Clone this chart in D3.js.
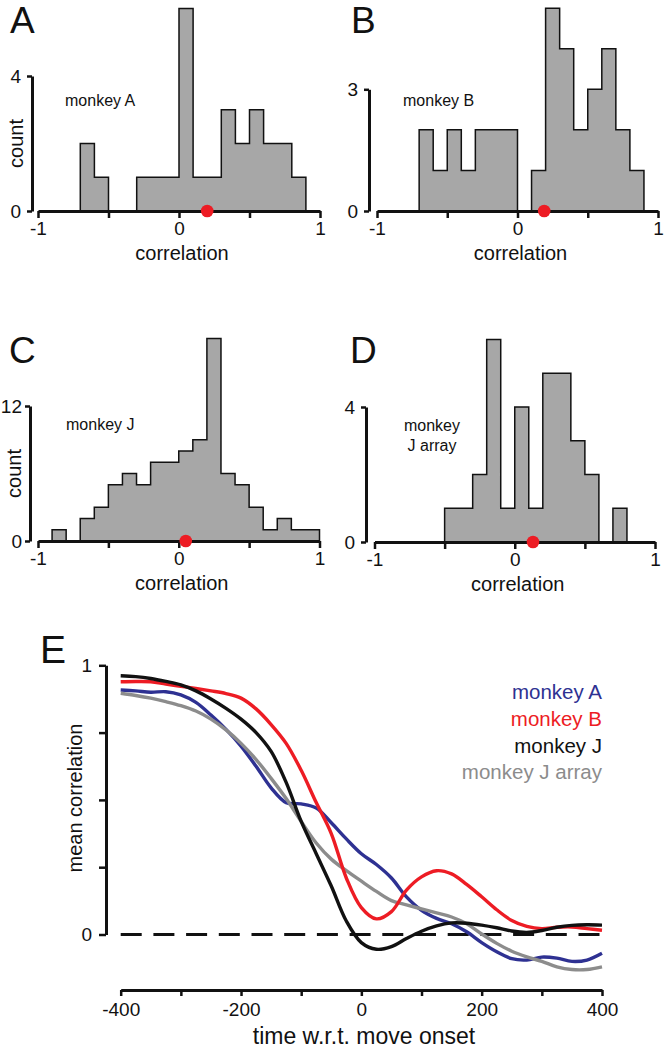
<!DOCTYPE html>
<html><head><meta charset="utf-8">
<script src="https://cdn.jsdelivr.net/npm/d3@7"></script>
<style>
body{margin:0;background:#fff}
text{font-family:"Liberation Sans",Arial,Helvetica,sans-serif;fill:#111}
</style>
</head><body>
<svg id="chart" width="667" height="1050"></svg>
<script>
// ---------------- DATA ----------------
// histogram bin edges: -1 .. 1 in steps of 0.1 (20 bins)
const binEdges = d3.range(21).map(i => Math.round((-1 + i * 0.1) * 10) / 10);
const countsA = [0,0,0,2,1,0,0,1,1,1,6,1,1,3,2,3,2,2,1,0];
const countsB = [0,0,0,2,1,2,1,2,2,2,0,1,5,4,2,3,4,2,1,0];
const countsJ = [0,1,0,2,3,5,6,5,7,7,8,9,18,6,5,3,1,2,1,1];
const countsJarray = [0,0,0,0,0,1,1,2,6,1,4,1,5,5,3,2,0,1,0,0];
const meanA = 0.20, meanB = 0.19, meanJ = 0.05, meanJarray = 0.13;
const histXTicks = [-1, -0.5, 0, 0.5, 1];
const histXTickLabels = [-1, 0, 1];
const yTopA = 4, yTopB = 3, yTopJ = 12, yTopJarray = 4;

// panel E: mean correlation vs time
const timeE = [-400,-375,-350,-325,-300,-275,-250,-225,-200,-175,-150,-125,-100,-75,-50,-25,0,25,50,75,100,125,150,175,200,225,250,275,300,325,350,375,400];
const corrMonkeyA = [0.908,0.905,0.900,0.902,0.890,0.862,0.815,0.762,0.700,0.625,0.545,0.490,0.485,0.470,0.415,0.355,0.300,0.260,0.210,0.140,0.090,0.060,0.040,0.010,-0.030,-0.064,-0.090,-0.095,-0.084,-0.088,-0.100,-0.095,-0.070];
const corrMonkeyB = [0.939,0.940,0.939,0.930,0.922,0.914,0.905,0.895,0.878,0.838,0.780,0.710,0.610,0.490,0.375,0.210,0.100,0.058,0.085,0.165,0.214,0.237,0.225,0.186,0.140,0.092,0.052,0.030,0.022,0.027,0.028,0.022,0.016];
const corrMonkeyJ = [0.961,0.958,0.951,0.940,0.927,0.905,0.875,0.840,0.800,0.750,0.680,0.565,0.420,0.300,0.180,0.050,-0.030,-0.055,-0.045,-0.015,0.012,0.032,0.043,0.042,0.035,0.025,0.013,0.008,0.015,0.027,0.034,0.036,0.035];
const corrMonkeyJarray = [0.896,0.888,0.878,0.865,0.850,0.830,0.800,0.760,0.710,0.650,0.580,0.505,0.420,0.340,0.280,0.237,0.198,0.160,0.126,0.110,0.095,0.080,0.065,0.040,0.002,-0.033,-0.062,-0.083,-0.100,-0.120,-0.130,-0.130,-0.120];
const seriesNames = ["monkey A", "monkey B", "monkey J", "monkey J array"];
const seriesColors = ["#2e3192", "#ed1c24", "#111111", "#8c8c8c"];
const eXTicks = [-400,-300,-200,-100,0,100,200,300,400];
const eXTickLabels = [-400,-200,0,200,400];
const eYTicks = [0,0.25,0.5,0.75,1];
const eYTickLabels = [0,1];

// ---------------- DRAW ----------------
const svg = d3.select("#chart");
const FONT_TICK = 19;
const plain = d => String(d);   // hyphen-minus, no decimals for integers

function histPanel(p) {
  const x = d3.scaleLinear().domain([-1, 1]).range([p.xl, p.xr]);
  const y = d3.scaleLinear().domain([0, p.yTop]).range([p.yBase, p.yTopPx]);
  const g = svg.append("g");
  const runs = [];
  let cur = null;
  p.counts.forEach((c, i) => {
    if (c > 0) { if (!cur) { cur = []; runs.push(cur); } cur.push(i); }
    else cur = null;
  });
  const line = d3.line().x(d => x(d[0])).y(d => y(d[1]));
  runs.forEach(r => {
    const pts = [[binEdges[r[0]], 0]];
    r.forEach(i => { pts.push([binEdges[i], p.counts[i]]); pts.push([binEdges[i + 1], p.counts[i]]); });
    pts.push([binEdges[r[r.length - 1] + 1], 0]);
    g.append("path").attr("d", line(pts) + "Z")
      .attr("fill", "#a7a7a7").attr("stroke", "#111").attr("stroke-width", 1.5)
      .attr("stroke-linejoin", "miter");
  });
  const xa = g.append("g").attr("transform", `translate(0,${p.yBase})`)
    .call(d3.axisBottom(x).tickValues(histXTicks).tickSize(7).tickSizeOuter(0).tickPadding(4)
      .tickFormat(d => histXTickLabels.includes(d) ? plain(d) : ""));
  styleAxis(xa);
  const ya = g.append("g").attr("transform", `translate(${p.yAxisX},0)`)
    .call(d3.axisLeft(y).tickValues([0, p.yTop]).tickSize(5).tickSizeOuter(0).tickPadding(p.yPad)
      .tickFormat(plain));
  styleAxis(ya);
  g.append("circle").attr("cx", x(p.mean)).attr("cy", y(0)).attr("r", 6.3).attr("fill", "#ed1c24");
  g.append("text").attr("x", p.letterX).attr("y", p.letterY).attr("font-size", 37).text(p.letter);
  p.label.forEach((t, i) => {
    g.append("text").attr("x", p.labelX).attr("y", p.labelY + i * 20)
      .attr("text-anchor", p.labelAnchor).attr("font-size", 16).text(t);
  });
  g.append("text").attr("x", x(0) + 3).attr("y", p.yBase + 49)
    .attr("text-anchor", "middle").attr("font-size", 20).text("correlation");
  if (p.countLabel) {
    g.append("text").attr("transform", `translate(${p.yAxisX - 9},${(p.yBase + p.yTopPx) / 2}) rotate(-90)`)
      .attr("text-anchor", "middle").attr("font-size", 20).text("count");
  }
}

function styleAxis(a) {
  a.select(".domain").attr("stroke", "#111").attr("stroke-width", 3);
  a.selectAll(".tick line").attr("stroke", "#111").attr("stroke-width", 2.5);
  a.selectAll(".tick text").attr("font-size", FONT_TICK)
    .attr("font-family", '"Liberation Sans",Arial,Helvetica,sans-serif').attr("fill", "#111");
}

histPanel({counts: countsA, mean: meanA, yTop: yTopA, xl: 38, xr: 320, yBase: 211, yTopPx: 76, yAxisX: 32, yPad: 6,
  letter: "A", letterX: 10, letterY: 33, label: ["monkey A"], labelX: 65, labelY: 106, labelAnchor: "start", countLabel: true});
histPanel({counts: countsB, mean: meanB, yTop: yTopB, xl: 377, xr: 658, yBase: 211, yTopPx: 89.3, yAxisX: 369, yPad: 6,
  letter: "B", letterX: 351, letterY: 33, label: ["monkey B"], labelX: 403, labelY: 106, labelAnchor: "start", countLabel: false});
histPanel({counts: countsJ, mean: meanJ, yTop: yTopJ, xl: 38, xr: 319.5, yBase: 541, yTopPx: 406, yAxisX: 30, yPad: 3,
  letter: "C", letterX: 9, letterY: 363, label: ["monkey J"], labelX: 66, labelY: 430, labelAnchor: "start", countLabel: true});
histPanel({counts: countsJarray, mean: meanJarray, yTop: yTopJarray, xl: 374.5, xr: 655, yBase: 542, yTopPx: 407, yAxisX: 366, yPad: 6,
  letter: "D", letterX: 350, letterY: 363, label: ["monkey", "J array"], labelX: 432, labelY: 431, labelAnchor: "middle", countLabel: false});

// ---- Panel E ----
const xE = d3.scaleLinear().domain([-400, 400]).range([120.7, 602]);
const yE = d3.scaleLinear().domain([0, 1]).range([934.5, 665.3]);
const gE = svg.append("g");
gE.append("line").attr("x1", xE(-400)).attr("x2", xE(400)).attr("y1", yE(0)).attr("y2", yE(0))
  .attr("stroke", "#111").attr("stroke-width", 3).attr("stroke-dasharray", "21 11.7");
const series = [corrMonkeyA, corrMonkeyB, corrMonkeyJ, corrMonkeyJarray];
const order = [0, 3, 1, 2];
const lineE = d3.line().x((d, i) => xE(timeE[i])).y(d => yE(d)).curve(d3.curveCatmullRom.alpha(0.5));
order.forEach(k => {
  gE.append("path").attr("d", lineE(series[k])).attr("fill", "none")
    .attr("stroke", seriesColors[k]).attr("stroke-width", 3.4).attr("stroke-linecap", "butt");
});
const xaE = gE.append("g").attr("transform", "translate(0,990)")
  .call(d3.axisBottom(xE).tickValues(eXTicks).tickSize(6).tickSizeOuter(0).tickPadding(7)
    .tickFormat(d => eXTickLabels.includes(d) ? plain(d) : ""));
styleAxis(xaE);
const yaE = gE.append("g").attr("transform", "translate(106,0)")
  .call(d3.axisLeft(yE).tickValues(eYTicks).tickSize(7).tickSizeOuter(0).tickPadding(7)
    .tickFormat(d => eYTickLabels.includes(d) ? plain(d) : ""));
styleAxis(yaE);
gE.append("text").attr("x", 40).attr("y", 663).attr("font-size", 39).text("E");
seriesNames.forEach((n, i) => {
  gE.append("text").attr("x", 602).attr("y", 699 + i * 26.8).attr("text-anchor", "end")
    .attr("font-size", 20.5).style("fill", seriesColors[i]).text(n);
});
gE.append("text").attr("x", 364).attr("y", 1044).attr("text-anchor", "middle").attr("font-size", 23)
  .text("time w.r.t. move onset");
gE.append("text").attr("transform", "translate(81.5,798) rotate(-90)").attr("text-anchor", "middle")
  .attr("font-size", 20).text("mean correlation");
</script>
</body></html>
